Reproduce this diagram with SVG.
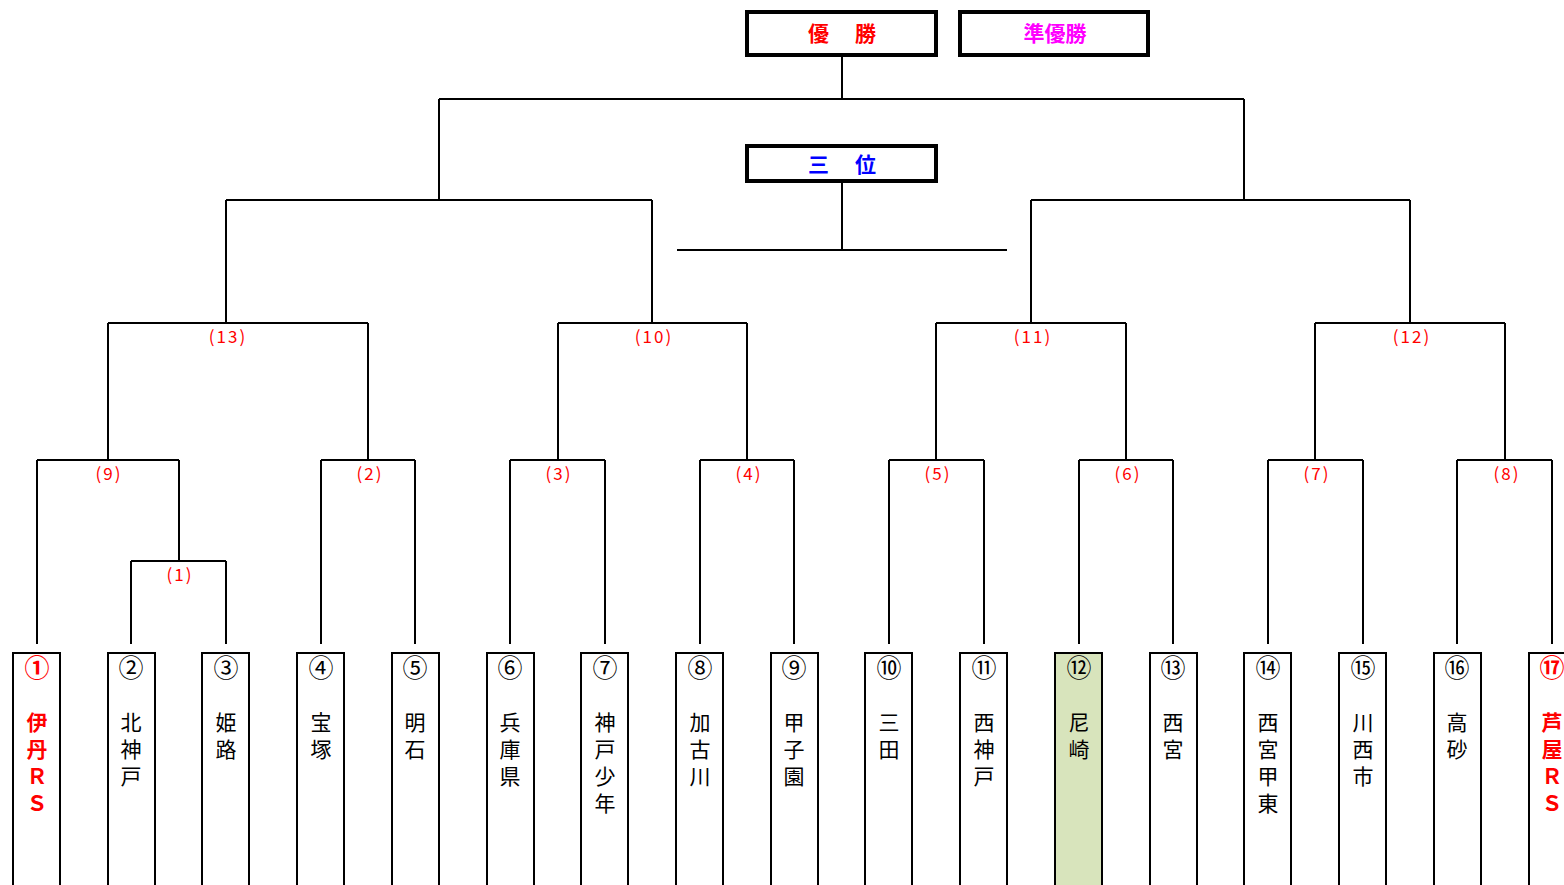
<svg xmlns="http://www.w3.org/2000/svg" width="1564" height="885" viewBox="0 0 1564 885">
<style>
.ln{stroke:#000;stroke-width:2;fill:none}
.hb{fill:#fff;stroke:#000;stroke-width:4}
.tb{fill:#fff;stroke:#000;stroke-width:2}
.lb{font-family:"Noto Sans CJK JP","Noto Sans",sans-serif;font-size:17px;fill:#ff0000;text-anchor:middle;letter-spacing:2px}
.num{font-family:"Noto Sans CJK JP",sans-serif;font-size:25px;text-anchor:middle;fill:#000}
.nm{font-family:"Noto Sans CJK JP",sans-serif;font-size:21px;text-anchor:middle;fill:#000}
.red{fill:#ff0000;font-weight:bold}
.ht{font-family:"Noto Sans CJK JP",sans-serif;font-size:21px;font-weight:bold;text-anchor:middle}
</style>
<rect width="1564" height="885" fill="#fff"/>
<g id="connectors">
<path class="ln" d="M842,57V99M439,99H1244M439,99V200M1244,99V200"/>
<path class="ln" d="M226,200H652M226,200V323M652,200V323M1031,200H1410M1031,200V323M1410,200V323"/>
<path class="ln" d="M842,183V250M677,250H1007"/>
<path class="ln" d="M108,323H368M558,323H747M936,323H1126M1315,323H1505"/>
<path class="ln" d="M108,323V460M368,323V460M558,323V460M747,323V460M936,323V460M1126,323V460M1315,323V460M1505,323V460"/>
<path class="ln" d="M37,460H179M321,460H415M510,460H605M700,460H794M889,460H984M1079,460H1173M1268,460H1363M1457,460H1552"/>
<path class="ln" d="M179,460V561M131,561H226"/>
<path class="ln" d="M37,460V644M131,561V644M226,561V644M321,460V644M415,460V644M510,460V644M605,460V644M700,460V644M794,460V644M889,460V644M984,460V644M1079,460V644M1173,460V644M1268,460V644M1363,460V644M1457,460V644M1552,460V644"/>
</g>
<g id="labels">
<text class="lb" x="228" y="343">(13)</text>
<text class="lb" x="654" y="343">(10)</text>
<text class="lb" x="1033" y="343">(11)</text>
<text class="lb" x="1412" y="343">(12)</text>
<text class="lb" x="109" y="480">(9)</text>
<text class="lb" x="370" y="480">(2)</text>
<text class="lb" x="559" y="480">(3)</text>
<text class="lb" x="749" y="480">(4)</text>
<text class="lb" x="938" y="480">(5)</text>
<text class="lb" x="1128" y="480">(6)</text>
<text class="lb" x="1317" y="480">(7)</text>
<text class="lb" x="1507" y="480">(8)</text>
<text class="lb" x="180" y="581">(1)</text>
</g>
<g id="winner"><rect class="hb" x="747" y="12" width="189" height="43"/><text class="ht" x="842" y="41" fill="#ff0000">優　 勝</text></g>
<g id="runnerup"><rect class="hb" x="960" y="12" width="188" height="43"/><text class="ht" x="1055" y="41" fill="#ff00ff">準優勝</text></g>
<g id="third"><rect class="hb" x="747" y="146" width="189" height="35"/><text class="ht" x="842" y="172" fill="#0000ff">三　 位</text></g>
<g id="t1"><rect class="tb" x="13" y="653" width="47" height="240"/><text class="num red" x="37" y="677" font-weight="normal">①</text><text class="nm red" x="37"><tspan x="37" y="730">伊</tspan><tspan x="37" y="757">丹</tspan><tspan x="37" y="784">Ｒ</tspan><tspan x="37" y="811">Ｓ</tspan></text></g>
<g id="t2"><rect class="tb" x="108" y="653" width="47" height="240"/><text class="num" x="131" y="677">②</text><text class="nm" x="131"><tspan x="131" y="730">北</tspan><tspan x="131" y="757">神</tspan><tspan x="131" y="784">戸</tspan></text></g>
<g id="t3"><rect class="tb" x="202" y="653" width="47" height="240"/><text class="num" x="226" y="677">③</text><text class="nm" x="226"><tspan x="226" y="730">姫</tspan><tspan x="226" y="757">路</tspan></text></g>
<g id="t4"><rect class="tb" x="297" y="653" width="47" height="240"/><text class="num" x="321" y="677">④</text><text class="nm" x="321"><tspan x="321" y="730">宝</tspan><tspan x="321" y="757">塚</tspan></text></g>
<g id="t5"><rect class="tb" x="392" y="653" width="47" height="240"/><text class="num" x="415" y="677">⑤</text><text class="nm" x="415"><tspan x="415" y="730">明</tspan><tspan x="415" y="757">石</tspan></text></g>
<g id="t6"><rect class="tb" x="487" y="653" width="47" height="240"/><text class="num" x="510" y="677">⑥</text><text class="nm" x="510"><tspan x="510" y="730">兵</tspan><tspan x="510" y="757">庫</tspan><tspan x="510" y="784">県</tspan></text></g>
<g id="t7"><rect class="tb" x="581" y="653" width="47" height="240"/><text class="num" x="605" y="677">⑦</text><text class="nm" x="605"><tspan x="605" y="730">神</tspan><tspan x="605" y="757">戸</tspan><tspan x="605" y="784">少</tspan><tspan x="605" y="811">年</tspan></text></g>
<g id="t8"><rect class="tb" x="676" y="653" width="47" height="240"/><text class="num" x="700" y="677">⑧</text><text class="nm" x="700"><tspan x="700" y="730">加</tspan><tspan x="700" y="757">古</tspan><tspan x="700" y="784">川</tspan></text></g>
<g id="t9"><rect class="tb" x="771" y="653" width="47" height="240"/><text class="num" x="794" y="677">⑨</text><text class="nm" x="794"><tspan x="794" y="730">甲</tspan><tspan x="794" y="757">子</tspan><tspan x="794" y="784">園</tspan></text></g>
<g id="t10"><rect class="tb" x="865" y="653" width="47" height="240"/><text class="num" x="889" y="677">⑩</text><text class="nm" x="889"><tspan x="889" y="730">三</tspan><tspan x="889" y="757">田</tspan></text></g>
<g id="t11"><rect class="tb" x="960" y="653" width="47" height="240"/><text class="num" x="984" y="677">⑪</text><text class="nm" x="984"><tspan x="984" y="730">西</tspan><tspan x="984" y="757">神</tspan><tspan x="984" y="784">戸</tspan></text></g>
<g id="t12"><rect class="tb" x="1055" y="653" width="47" height="240" style="fill:#d8e4bc"/><text class="num" x="1079" y="677">⑫</text><text class="nm" x="1079"><tspan x="1079" y="730">尼</tspan><tspan x="1079" y="757">崎</tspan></text></g>
<g id="t13"><rect class="tb" x="1150" y="653" width="47" height="240"/><text class="num" x="1173" y="677">⑬</text><text class="nm" x="1173"><tspan x="1173" y="730">西</tspan><tspan x="1173" y="757">宮</tspan></text></g>
<g id="t14"><rect class="tb" x="1244" y="653" width="47" height="240"/><text class="num" x="1268" y="677">⑭</text><text class="nm" x="1268"><tspan x="1268" y="730">西</tspan><tspan x="1268" y="757">宮</tspan><tspan x="1268" y="784">甲</tspan><tspan x="1268" y="811">東</tspan></text></g>
<g id="t15"><rect class="tb" x="1339" y="653" width="47" height="240"/><text class="num" x="1363" y="677">⑮</text><text class="nm" x="1363"><tspan x="1363" y="730">川</tspan><tspan x="1363" y="757">西</tspan><tspan x="1363" y="784">市</tspan></text></g>
<g id="t16"><rect class="tb" x="1434" y="653" width="47" height="240"/><text class="num" x="1457" y="677">⑯</text><text class="nm" x="1457"><tspan x="1457" y="730">高</tspan><tspan x="1457" y="757">砂</tspan></text></g>
<g id="t17"><rect class="tb" x="1529" y="653" width="47" height="240"/><text class="num red" x="1552" y="677" font-weight="normal">⑰</text><text class="nm red" x="1552"><tspan x="1552" y="730">芦</tspan><tspan x="1552" y="757">屋</tspan><tspan x="1552" y="784">Ｒ</tspan><tspan x="1552" y="811">Ｓ</tspan></text></g>
</svg>
